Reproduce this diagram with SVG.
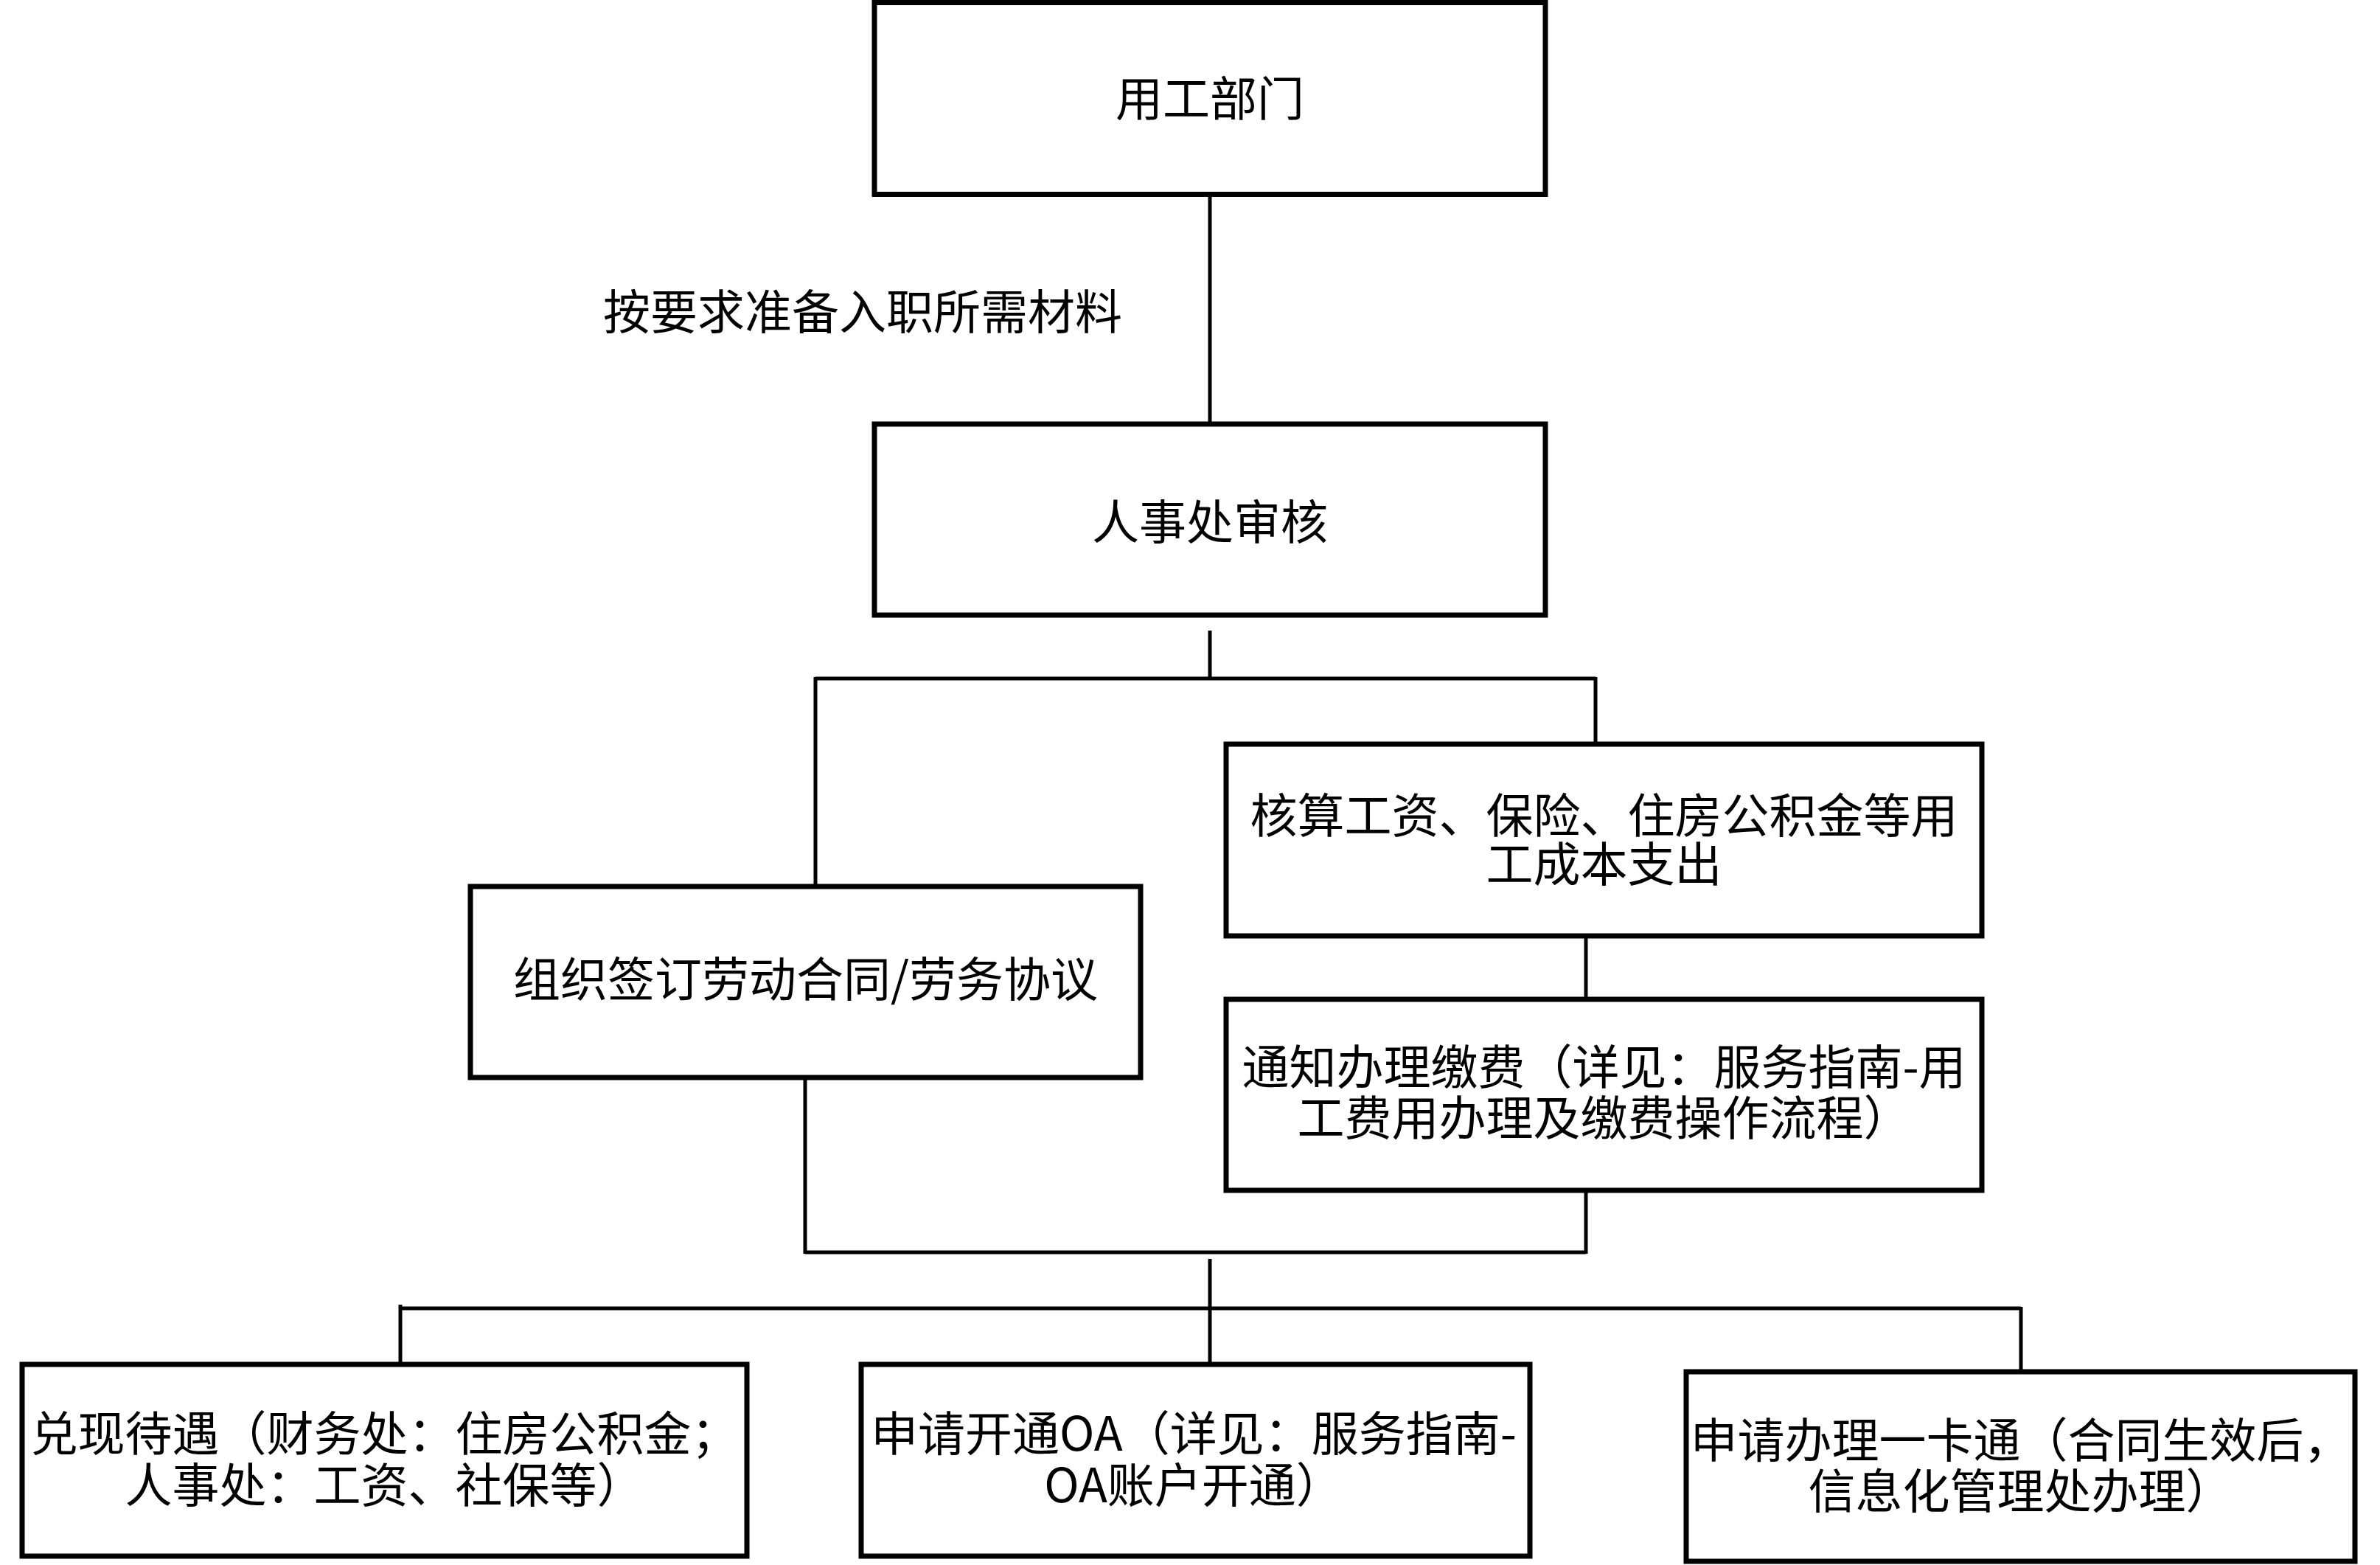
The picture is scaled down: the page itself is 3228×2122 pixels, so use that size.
<svg xmlns="http://www.w3.org/2000/svg" width="3228" height="2122" viewBox="0 0 3228 2122">
<style>
.box{fill:#ffffff;stroke:#000000;stroke-width:7}
.ln{stroke:#000000;stroke-width:5;fill:none}
.t{font-family:"Noto Sans CJK SC","Noto Sans",sans-serif;font-size:64px;fill:#000000;text-anchor:middle}
</style>
<rect x="0" y="0" width="3228" height="2122" fill="#ffffff"/>
<g id="connectors">
<line class="ln" x1="1641" y1="264" x2="1641" y2="575"/>
<line class="ln" x1="1641" y1="855" x2="1641" y2="920"/>
<line class="ln" x1="1106" y1="920" x2="2164" y2="920"/>
<line class="ln" x1="1106" y1="918" x2="1106" y2="1202"/>
<line class="ln" x1="2164" y1="918" x2="2164" y2="1009"/>
<line class="ln" x1="2151" y1="1269" x2="2151" y2="1355"/>
<line class="ln" x1="1092" y1="1461" x2="1092" y2="1700"/>
<line class="ln" x1="2151" y1="1614" x2="2151" y2="1700"/>
<line class="ln" x1="1092" y1="1698" x2="2151" y2="1698"/>
<line class="ln" x1="1641" y1="1707" x2="1641" y2="1850"/>
<line class="ln" x1="543" y1="1774" x2="2741" y2="1774"/>
<line class="ln" x1="543" y1="1769" x2="543" y2="1850"/>
<line class="ln" x1="2741" y1="1772" x2="2741" y2="1860"/>
<text class="t" x="1170" y="446">按要求准备入职所需材料</text>
</g>
<g id="node-yonggong">
<rect class="box" x="1186" y="3.5" width="910" height="260"/>
<text class="t" x="1641" y="157">用工部门</text>
</g>
<g id="node-shenhe">
<rect class="box" x="1186" y="575" width="910" height="259"/>
<text class="t" x="1641" y="731">人事处审核</text>
</g>
<g id="node-hetong">
<rect class="box" x="638" y="1202" width="909" height="259"/>
<text class="t" x="1092.5" y="1351">组织签订劳动合同/劳务协议</text>
</g>
<g id="node-hesuan">
<rect class="box" x="1663" y="1009" width="1025" height="260"/>
<text class="t" x="2175.5" y="1129"><tspan x="2175.5" y="1129">核算工资、保险、住房公积金等用</tspan><tspan x="2175.5" y="1195">工成本支出</tspan></text>
</g>
<g id="node-jiaofei">
<rect class="box" x="1663" y="1355" width="1025" height="259"/>
<text class="t" x="2175.5" y="1470"><tspan x="2175.5" y="1470">通知办理缴费（详见：服务指南-用</tspan><tspan x="2175.5" y="1539">工费用办理及缴费操作流程）</tspan></text>
</g>
<g id="node-daiyu">
<rect class="box" x="30" y="1850" width="983" height="260"/>
<text class="t" x="521.5" y="1967"><tspan x="521.5" y="1967">兑现待遇（财务处：住房公积金；</tspan><tspan x="521.5" y="2037">人事处：工资、社保等）</tspan></text>
</g>
<g id="node-oa">
<rect class="box" x="1168" y="1850" width="907" height="260"/>
<text class="t" x="1619" y="1967"><tspan x="1619" y="1967">申请开通OA（详见：服务指南-</tspan><tspan x="1619" y="2037">OA账户开通）</tspan></text>
</g>
<g id="node-card">
<rect class="box" x="2287" y="1860" width="907" height="257"/>
<text class="t" x="2740.5" y="1976"><tspan x="2740.5" y="1976">申请办理一卡通（合同生效后，</tspan><tspan x="2740.5" y="2045">信息化管理处办理）</tspan></text>
</g>
</svg>
